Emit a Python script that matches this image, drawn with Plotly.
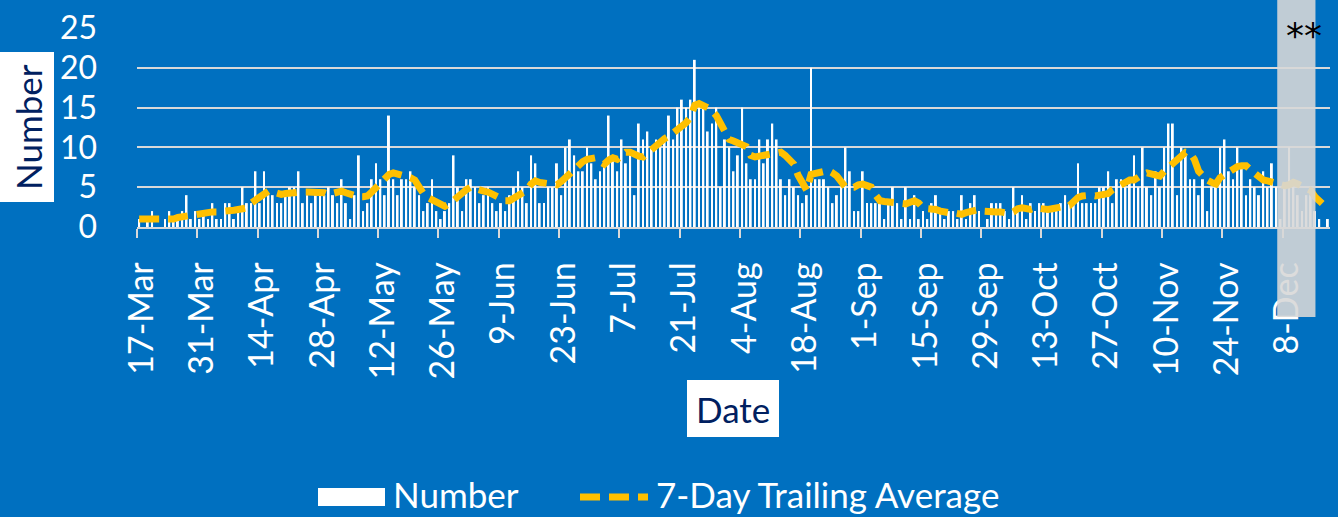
import pandas as pd
import plotly.graph_objects as go

# ---------------- data ----------------
start_date = "2020-03-17"

daily_counts = [
    1, 0, 1, 2, 0, 0, 1, 2, 1, 1,
    2, 4, 1, 2, 1, 2, 1, 3, 1, 1,
    3, 3, 1, 2, 5, 3, 3, 7, 3, 7,
    4, 4, 3, 3, 4, 5, 5, 7, 3, 4,
    3, 4, 4, 4, 5, 4, 3, 6, 3, 1,
    4, 9, 2, 3, 6, 8, 6, 4, 14, 6,
    4, 6, 6, 7, 5, 4, 2, 3, 6, 2,
    1, 2, 3, 9, 5, 2, 6, 6, 5, 3,
    4, 5, 3, 2, 3, 2, 4, 5, 7, 5,
    3, 9, 8, 3, 3, 5, 5, 8, 4, 10,
    11, 9, 7, 7, 10, 8, 6, 7, 8, 14,
    9, 7, 11, 8, 9, 4, 13, 11, 12, 10,
    11, 10, 11, 14, 11, 15, 16, 15, 16, 21,
    15, 15, 12, 13, 15, 5, 11, 10, 7, 9,
    15, 8, 6, 6, 11, 8, 11, 13, 11, 6,
    4, 6, 5, 4, 3, 4, 20, 6, 6, 6,
    5, 3, 4, 5, 10, 7, 2, 2, 7, 3,
    3, 3, 3, 1, 3, 5, 3, 1, 5, 1,
    4, 1, 2, 1, 3, 4, 2, 1, 2, 2,
    1, 4, 1, 3, 4, 2, 0, 1, 3, 3,
    3, 2, 1, 5, 2, 4, 1, 3, 2, 3,
    3, 2, 2, 2, 3, 4, 3, 3, 8, 3,
    3, 3, 3, 5, 5, 7, 3, 6, 6, 5,
    6, 9, 5, 10, 5, 4, 7, 5, 10, 13,
    13, 4, 10, 9, 6, 6, 4, 6, 2, 5,
    5, 10, 11, 7, 6, 10, 8, 4, 6, 5,
    4, 7, 5, 8, 5, 1, 5, 10, 5, 4,
    2, 4, 4, 2, 1, 0, 1,
]

trailing_avg = [
    1.0, 1.0, 1.0, 1.0, 1.0, 0.9, 0.8, 0.9, 1.0, 1.2,
    1.3, 1.4, 1.6, 1.7, 1.8, 1.8, 1.8, 1.9, 1.9, 1.9,
    1.9, 2.0, 2.1, 2.2, 2.3, 2.4, 3.0, 3.4, 3.8, 4.2,
    4.5, 4.4, 4.2, 4.1, 4.2, 4.3, 4.3, 4.3, 4.4, 4.4,
    4.4, 4.4, 4.4, 4.3, 4.1, 4.3, 4.5, 4.5, 4.3, 4.1,
    3.9, 3.8, 3.8, 3.9, 4.4, 5.0, 5.5, 6.1, 6.6, 6.8,
    6.7, 6.6, 6.5, 6.2, 5.9, 5.0, 4.2, 3.7, 3.4, 3.1,
    2.7, 2.6, 2.9, 3.4, 3.8, 4.3, 4.7, 5.0, 4.8, 4.5,
    4.5, 4.4, 4.1, 3.8, 3.5, 3.3, 3.3, 3.6, 3.9, 4.3,
    4.6, 5.4, 5.8, 5.6, 5.5, 5.4, 5.3, 5.3, 5.7, 6.2,
    6.7, 7.3, 7.9, 8.2, 8.5, 8.7, 8.7, 8.2, 7.9, 8.4,
    8.7, 8.5, 9.0, 9.4, 9.4, 9.1, 8.9, 8.8, 9.3, 9.8,
    10.3, 10.7, 11.1, 11.4, 11.8, 12.1, 12.6, 13.1, 13.8, 15.3,
    15.5, 15.3, 15.0, 14.6, 14.0, 13.0, 12.1, 11.0, 10.8, 10.5,
    10.2, 10.1, 9.0, 8.8, 8.9, 9.0, 9.2, 9.3, 9.4, 9.4,
    9.0, 8.5, 7.9, 6.5, 5.5, 4.6, 6.6, 6.7, 6.9, 7.0,
    7.1, 6.8, 6.4, 5.7, 5.0, 5.0, 5.0, 5.3, 5.4, 5.2,
    5.0, 4.0, 3.3, 3.2, 3.1, 3.0, 2.9, 2.9, 2.9, 3.1,
    3.3, 3.0, 2.4, 2.3, 2.3, 2.2, 2.0, 1.8, 1.8, 1.8,
    1.7, 1.6, 1.8, 2.0, 2.2, 2.2, 2.0, 1.9, 1.8, 1.9,
    1.9, 1.8, 1.7, 1.9, 2.3, 2.4, 2.3, 2.2, 2.4, 2.3,
    2.2, 2.2, 2.3, 2.4, 2.5, 2.6, 2.7, 3.2, 3.7, 3.9,
    4.0, 4.0, 3.9, 4.0, 4.1, 4.2, 4.7, 5.0, 5.3, 5.6,
    5.9, 5.9, 6.3, 6.6, 6.8, 6.6, 6.5, 6.4, 7.0, 7.5,
    7.9, 8.4, 8.9, 9.4, 9.3, 8.5, 7.0, 6.3, 5.9, 5.6,
    5.4, 6.2, 6.6, 7.0, 7.4, 7.6, 7.7, 7.7, 7.2, 6.7,
    6.2, 5.9, 5.8, 5.6, 5.5, 5.3, 5.2, 5.3, 5.6, 5.4,
    5.1, 4.8, 4.6, 3.8, 3.3, 2.8, 2.3,
]

tick_labels = [
    "17-Mar", "31-Mar", "14-Apr", "28-Apr", "12-May", "26-May", "9-Jun",
    "23-Jun", "7-Jul", "21-Jul", "4-Aug", "18-Aug", "1-Sep", "15-Sep",
    "29-Sep", "13-Oct", "27-Oct", "10-Nov", "24-Nov", "8-Dec",
]
year = 2020
shade_start = "2020-12-06 06:00"
shade_end = "2020-12-15 03:00"

# ---------------- derived positions ----------------
dates = pd.date_range(start_date, periods=len(daily_counts), freq="D")
half_day = pd.Timedelta(hours=12)
tick_dates = [pd.to_datetime(f"{t}-{year}", format="%d-%b-%Y") for t in tick_labels]
label_pos = [d + pd.Timedelta(hours=14) for d in tick_dates]
tick_marks = [d - half_day for d in tick_dates]

BG = "#0070C0"
GRID = "#D9D9D9"
GOLD = "#FFC000"
NAVY = "#002060"
FONT = "Lato"

W, H = 1338, 517
ML, MR, MT, MB = 137, 8, 28, 290


def px_x(px):
    return (px - ML) / (W - ML - MR)


def px_y(py):
    return (H - MB - py) / (H - MT - MB)


fig = go.Figure()
fig.add_trace(go.Bar(
    x=dates, y=daily_counts, name="Number",
    marker=dict(color="white", line_width=0), showlegend=False,
))
fig.add_trace(go.Scatter(
    x=dates, y=trailing_avg, mode="lines", name="7-Day Trailing Average",
    line=dict(color=GOLD, width=7, dash="20px,9px"), showlegend=False,
))

fig.update_layout(
    width=W, height=H, autosize=False,
    margin=dict(l=ML, r=MR, t=MT, b=MB, pad=0),
    paper_bgcolor=BG, plot_bgcolor=BG,
    bargap=0.55,
    font=dict(family=FONT, color="white"),
    xaxis=dict(
        type="date",
        range=[dates[0] - half_day, dates[-1] + half_day],
        tickmode="array", tickvals=label_pos, ticktext=tick_labels,
        tickangle=-90, tickfont=dict(size=34, color="white", family=FONT),
        ticks="", showgrid=False, zeroline=False,
        showline=True, linecolor=GRID, linewidth=1.5,
        ticklabelstandoff=20,
        minor=dict(ticks="outside", ticklen=9, tickwidth=1.5, tickcolor=GRID,
                   tickmode="array", tickvals=tick_marks, showgrid=False),
    ),
    yaxis=dict(
        range=[0, 25], tickmode="linear", tick0=0, dtick=5,
        showgrid=True, gridcolor=GRID, gridwidth=1.5,
        zeroline=False, showline=False, ticks="",
        tickfont=dict(size=32, color="white", family=FONT),
        ticklabelstandoff=39,
    ),
)

shapes = [
    # shaded (incomplete) period
    dict(type="rect", xref="x", yref="paper", x0=shade_start, x1=shade_end,
         y0=px_y(317), y1=px_y(0), fillcolor="rgba(216,216,216,0.89)",
         line=dict(width=0), layer="above"),
    # white boxes behind the axis titles
    dict(type="rect", xref="paper", yref="paper",
         x0=px_x(0), x1=px_x(54), y0=px_y(202), y1=px_y(52),
         fillcolor="white", line=dict(width=0), layer="above"),
    dict(type="rect", xref="paper", yref="paper",
         x0=px_x(687), x1=px_x(779), y0=px_y(437), y1=px_y(380),
         fillcolor="white", line=dict(width=0), layer="above"),
    # legend: bar swatch
    dict(type="rect", xref="paper", yref="paper",
         x0=px_x(318), x1=px_x(385), y0=px_y(506), y1=px_y(488),
         fillcolor="white", line=dict(width=0), layer="above"),
    # legend: dashed line swatch
    dict(type="line", xref="paper", yref="paper",
         x0=px_x(580), x1=px_x(648), y0=px_y(497), y1=px_y(497),
         line=dict(color=GOLD, width=7, dash="20px,9px"), layer="above"),
]

annotations = [
    dict(text="Number", xref="paper", yref="paper", x=px_x(28), y=px_y(127),
         xanchor="center", yanchor="middle",
         showarrow=False, textangle=-90, borderpad=0,
         font=dict(size=35, color=NAVY, family=FONT)),
    dict(text="Date", xref="paper", yref="paper", x=px_x(733), y=px_y(408.5),
         xanchor="center", yanchor="middle", showarrow=False, borderpad=0,
         font=dict(size=35, color=NAVY, family=FONT)),
    dict(text="**", xref="paper", yref="paper", x=px_x(1304), y=px_y(36),
         xanchor="center", yanchor="middle",
         showarrow=False, font=dict(size=36, color="black", family="DejaVu Sans")),
    dict(text="Number", xref="paper", yref="paper", x=px_x(391), y=px_y(494),
         xanchor="left", yanchor="middle", showarrow=False,
         font=dict(size=35, color="white", family=FONT)),
    dict(text="7-Day Trailing Average", xref="paper", yref="paper",
         x=px_x(654), y=px_y(494), xanchor="left", yanchor="middle",
         showarrow=False, font=dict(size=35, color="white", family=FONT)),
]

fig.update_layout(shapes=shapes, annotations=annotations)

page_fix = (
    "document.body.style.margin='0px';"
    "document.body.style.padding='0px';"
    "document.body.style.background='" + BG + "';"
    "document.documentElement.style.overflow='hidden';"
)
fig.write_html("out.html", post_script=page_fix,
               config={"displayModeBar": False})
